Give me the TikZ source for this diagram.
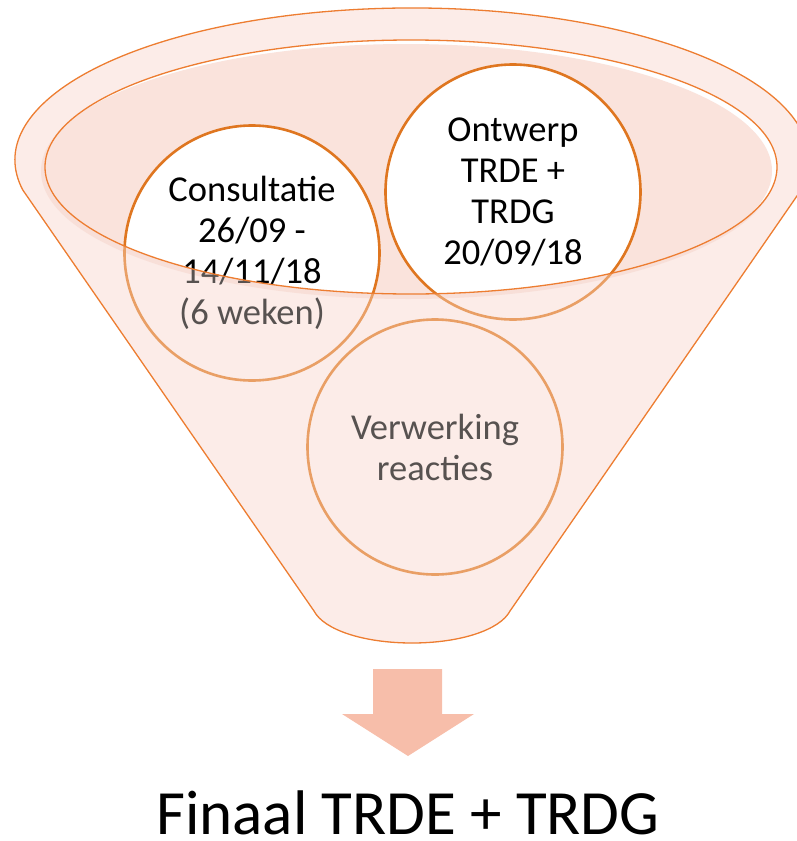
\documentclass[tikz,border=0pt]{standalone}
\usepackage{fontspec}
\setmainfont{Carlito}
\definecolor{funnelline}{HTML}{ED7D31}
\definecolor{ringline}{HTML}{DF7620}
\definecolor{funnelfill}{HTML}{FCECE8}
\definecolor{lipfill}{HTML}{FAE3DC}
\definecolor{lipshadow}{HTML}{F7D9D0}
\definecolor{arrowfill}{HTML}{F7BEAA}
\newcommand{\funnelpath}{(22.8,190) arc[start angle=168.6, end angle=371.4, x radius=397, y radius=152]
  -- (510,611) .. controls (500,630) and (460,643) .. (412,643)
  .. controls (364,643) and (324,630) .. (314,611) -- cycle}
\newcommand{\lippath}{(411,167) ellipse[x radius=366, y radius=127]}
\tikzset{
  ring/.style={circle, draw=ringline, line width=2.6pt, minimum size=255pt, inner sep=0pt,
    align=center, font=\fontsize{36.5}{41}\selectfont},
  rim/.style={draw=funnelline, line width=1.3pt}
}
\begin{document}
\begin{tikzpicture}[x=1pt, y=-1pt]
    \useasboundingbox (0,0) rectangle (796,841);
    \coordinate (cons-c) at (252,253);
    \coordinate (ontw-c) at (513,192);
    \coordinate (verw-c) at (435,447);
    % funnel body and lip
    \fill[funnelfill] \funnelpath;
    \fill[lipshadow] (408,171) ellipse[x radius=367, y radius=128];
    \fill[white] \lippath;
    \begin{scope}
      \clip \lippath;
      \fill[lipfill] (406,171) ellipse[x radius=366, y radius=127];
      \foreach \c in {cons-c, ontw-c}
        \fill[white] (\c) circle[radius=127.5];
    \end{scope}
    % circles
    \node[ring] (cons) at (cons-c) {Consultatie\\26/09 -\\14/11/18\\(6 weken)};
    \node[ring] (ontw) at (ontw-c) {Ontwerp\\TRDE +\\TRDG\\20/09/18};
    \node[ring] (verw) at (verw-c) {Verwerking\\reacties};
    % veil over the part below the lip
    \fill[funnelfill, fill opacity=0.35, even odd rule] \funnelpath \lippath;
    \draw[rim] \funnelpath;
    \draw[rim] \lippath;
    % arrow and result
    \fill[arrowfill] (373,669) -- (442,669) -- (442,714) -- (474,714) -- (408,756)
      -- (342,714) -- (373,714) -- cycle;
    \node[anchor=base, inner sep=0pt, font=\fontsize{63}{70}\selectfont] (final) at (408,834) {Finaal TRDE + TRDG};
\end{tikzpicture}
\end{document}
